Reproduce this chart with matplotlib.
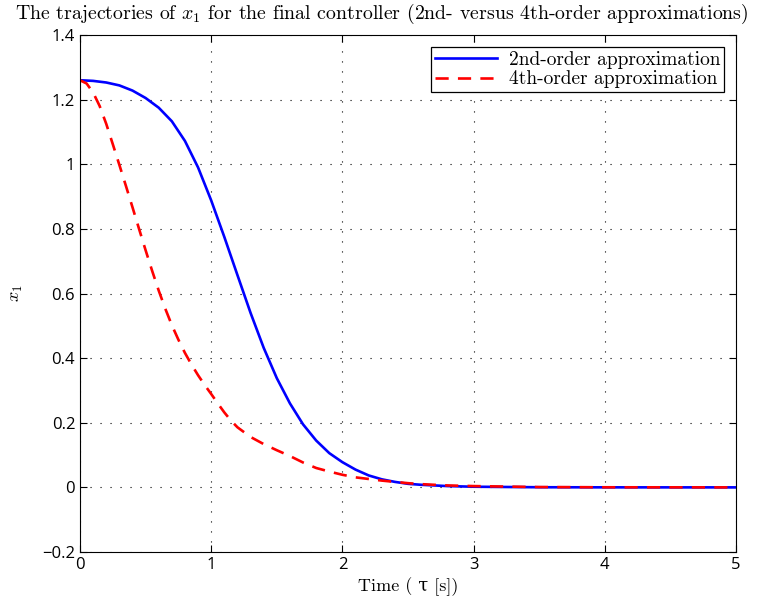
import matplotlib
matplotlib.use("Agg")
import matplotlib.pyplot as plt

plt.rcParams['mathtext.fontset'] = 'cm'
plt.rcParams['axes.unicode_minus'] = True

# Data
t_2nd = [0.0, 0.1, 0.2, 0.3, 0.4, 0.5, 0.6, 0.7, 0.8, 0.9, 1.0, 1.1, 1.2, 1.3, 1.4,
         1.5, 1.6, 1.7, 1.8, 1.9, 2.0, 2.1, 2.2, 2.3, 2.4, 2.5, 2.6, 2.8, 3.0, 3.5,
         4.0, 4.5, 5.0]
x1_2nd = [1.260, 1.258, 1.253, 1.244, 1.228, 1.205, 1.175, 1.133, 1.072, 0.990, 0.888,
          0.775, 0.657, 0.540, 0.432, 0.338, 0.260, 0.195, 0.145, 0.106, 0.078, 0.055,
          0.037, 0.025, 0.017, 0.011, 0.008, 0.004, 0.002, 0.0004, 0.0001, 0.0, 0.0]

t_4th = [0.0, 0.05, 0.1, 0.15, 0.2, 0.25, 0.3, 0.35, 0.4, 0.45, 0.5, 0.55, 0.6, 0.65,
         0.7, 0.75, 0.8, 0.85, 0.9, 0.95, 1.0, 1.05, 1.1, 1.15, 1.2, 1.3, 1.4, 1.5, 1.6,
         1.7, 1.8, 1.9, 2.0, 2.1, 2.2, 2.3, 2.4, 2.5, 2.6, 2.8, 3.0, 3.5, 4.0, 5.0]
x1_4th = [1.260, 1.250, 1.222, 1.180, 1.125, 1.062, 0.998, 0.933, 0.867, 0.800, 0.734,
          0.670, 0.609, 0.553, 0.502, 0.457, 0.416, 0.380, 0.347, 0.317, 0.289, 0.260,
          0.232, 0.207, 0.186, 0.156, 0.134, 0.115, 0.097, 0.077, 0.060, 0.049, 0.039,
          0.031, 0.026, 0.021, 0.017, 0.013, 0.010, 0.006, 0.004, 0.001, 0.0003, 0.0]

labels = ["2nd-order approximation", "4th-order approximation"]
x_ticks = [0, 1, 2, 3, 4, 5]
y_ticks = [-0.2, 0, 0.2, 0.4, 0.6, 0.8, 1.0, 1.2, 1.4]
y_tick_labels = ['\u22120.2', '0', '0.2', '0.4', '0.6', '0.8', '1', '1.2', '1.4']

fig = plt.figure(figsize=(7.63, 6.10), dpi=100)
ax = fig.add_axes([80/763, 1-552/610, 656/763, 517/610])

ax.plot(t_2nd, x1_2nd, color='#0000ff', lw=1.9, label=labels[0], solid_joinstyle='round')
ax.plot(t_4th, x1_4th, color='#ff0000', lw=1.9, ls=(0, (5, 3.5)), label=labels[1])

ax.set_xlim(0, 5)
ax.set_ylim(-0.2, 1.4)
ax.set_xticks(x_ticks)
ax.set_yticks(y_ticks)
ax.set_yticklabels(y_tick_labels)
ax.tick_params(direction='in', top=True, right=True, length=5, labelsize=12, width=0.8)
for lab in ax.get_xticklabels() + ax.get_yticklabels():
    lab.set_fontfamily('Open Sans')
ax.grid(True, color='black', ls=(0, (1, 8)), lw=0.8)
for sp in ax.spines.values():
    sp.set_linewidth(0.8)

serif = ['cmr10', 'DejaVu Serif']
fig.text(0.5, 1 - 14/610,
         r"The trajectories of $x_1$ for the final controller (2nd- versus 4th-order approximations)",
         fontsize=14.3, family=serif, ha='center', va='center')
ax.set_xlabel("Time ( \u03c4 [s])", fontsize=13, family=serif, labelpad=3)
ax.set_ylabel(r"$x_1$", fontsize=13, labelpad=12)

leg = ax.legend(loc='upper right', prop={'family': serif, 'size': 14}, fancybox=False,
                edgecolor='black', framealpha=1, handlelength=3.2, borderpad=0.2,
                labelspacing=0.1, borderaxespad=0.6, handletextpad=0.6)
leg.get_frame().set_linewidth(0.9)

fig.savefig('out.png', dpi=100)
